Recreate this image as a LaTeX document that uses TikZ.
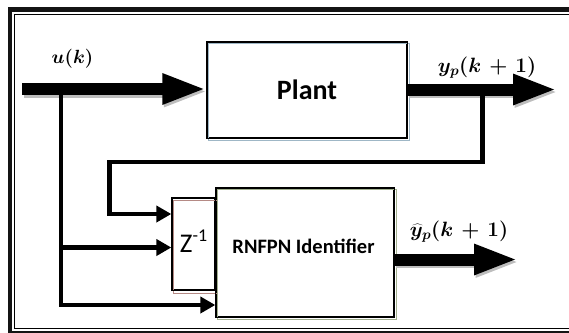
\documentclass[tikz,border=0pt]{standalone}
\usepackage{fontspec}
\usepackage{bm}
\usepackage{graphicx}
\usetikzlibrary{arrows.meta}
\newfontfamily\carlito{Carlito}
\definecolor{plantsh}{HTML}{9FB7C6}
\definecolor{zsh}{HTML}{B58A85}
\definecolor{rsh}{HTML}{A3B08F}
\definecolor{arrsh}{HTML}{BDBDBD}
\tikzset{
  blockbox/.style={draw=black, line width=1.3pt, rectangle, inner sep=0pt},
  bigarrow/.style={line width=12pt, -{Triangle[length=44pt,width=28pt]}},
  sigline/.style={line width=4.5pt, line join=miter, -{Triangle[length=15pt,width=16pt]}},
  mathlab/.style={inner sep=0pt, font=\fontsize{20.74}{21}\selectfont},
}
\begin{document}
\begin{tikzpicture}[x=1pt,y=-1pt]
\useasboundingbox (0,0) rectangle (569,332);
\clip (0,0) rectangle (569,332);
% frame
\draw[line width=4.6pt, black!92] (10,9.3) rectangle (590,333.5);
\draw[line width=1.4pt] (14.7,14.5) rectangle (585,328.5);

% blocks
\node[blockbox, minimum width=200pt, minimum height=96pt] (plant) at (307,90)
  {\carlito\bfseries\fontsize{28}{28}\selectfont Plant};
\node[blockbox, minimum width=43pt, minimum height=92pt] (zbox) at (193.5,244) {};
\node[blockbox, minimum width=178pt, minimum height=129pt] (rnfpn) at (305,252.5) {};
\draw[plantsh, line width=1.2pt] ([shift={(2,2)}]plant.north west) rectangle ([shift={(2,2)}]plant.south east);
\draw[zsh, line width=1.2pt] ([shift={(2,3)}]zbox.north west) rectangle ([shift={(2,3)}]zbox.south east);
\draw[rsh, line width=1.2pt] ([shift={(2,2)}]rnfpn.north west) rectangle ([shift={(2,2)}]rnfpn.south east);
\draw[line width=1.3pt] (plant.north west) rectangle (plant.south east);
\draw[line width=1.3pt] (zbox.north west) rectangle (zbox.south east);
\draw[line width=1.3pt] (rnfpn.north west) rectangle (rnfpn.south east);

\node[inner sep=0pt] (rtext) at (303.5,246)
  {\carlito\bfseries\fontsize{20.5}{20.5}\selectfont RNFPN Identifier};
\node[inner sep=0pt] (ztext) at (193.5,241)
  {\carlito\fontsize{27}{27}\selectfont Z\raisebox{0.42em}{\fontsize{18}{18}\selectfont -1}};

% coordinates
\coordinate (uin) at (22,89);
\coordinate (yout) at (557,89.5);
\coordinate (yhout) at (518,259.5);
\coordinate (uj) at (61,89);
\coordinate (ub) at (61,305);
\coordinate (um) at (61,247.5);
\coordinate (yj) at (482.5,89.5);
\coordinate (f1) at (482.5,162);
\coordinate (f2) at (109.5,162);
\coordinate (f3) at (109.5,214);

% thick arrow shadows
\begin{scope}[transform canvas={shift={(1.5pt,-2.5pt)}}]
  \draw[bigarrow, arrsh] (uin) -- (plant.west |- uin);
  \draw[bigarrow, arrsh] (plant.east |- yout) -- (yout);
  \draw[bigarrow, arrsh] (rnfpn.east |- yhout) -- (yhout);
\end{scope}

% signal lines
\draw[sigline] (uj) -- (ub) -- (rnfpn.west |- ub);
\draw[sigline] (um) -- (zbox.west |- um);
\draw[sigline] (yj) -- (f1) -- (f2) -- (f3) -- (zbox.west |- f3);

% thick arrows
\draw[bigarrow] (uin) -- (plant.west |- uin);
\draw[bigarrow] (plant.east |- yout) -- (yout);
\draw[bigarrow] (rnfpn.east |- yhout) -- (yhout);

% labels
\node[mathlab] (ulab) at (72.5,59) {\scalebox{0.92}{$\bm{u(k)}$}};
\node[mathlab] (yplab) at (487,67.5) {$\bm{y_p(k\,+\,1)}$};
\node[mathlab] (yhlab) at (459,232) {$\bm{\widehat{y}_p(k\,+\,1)}$};
\end{tikzpicture}
\end{document}
